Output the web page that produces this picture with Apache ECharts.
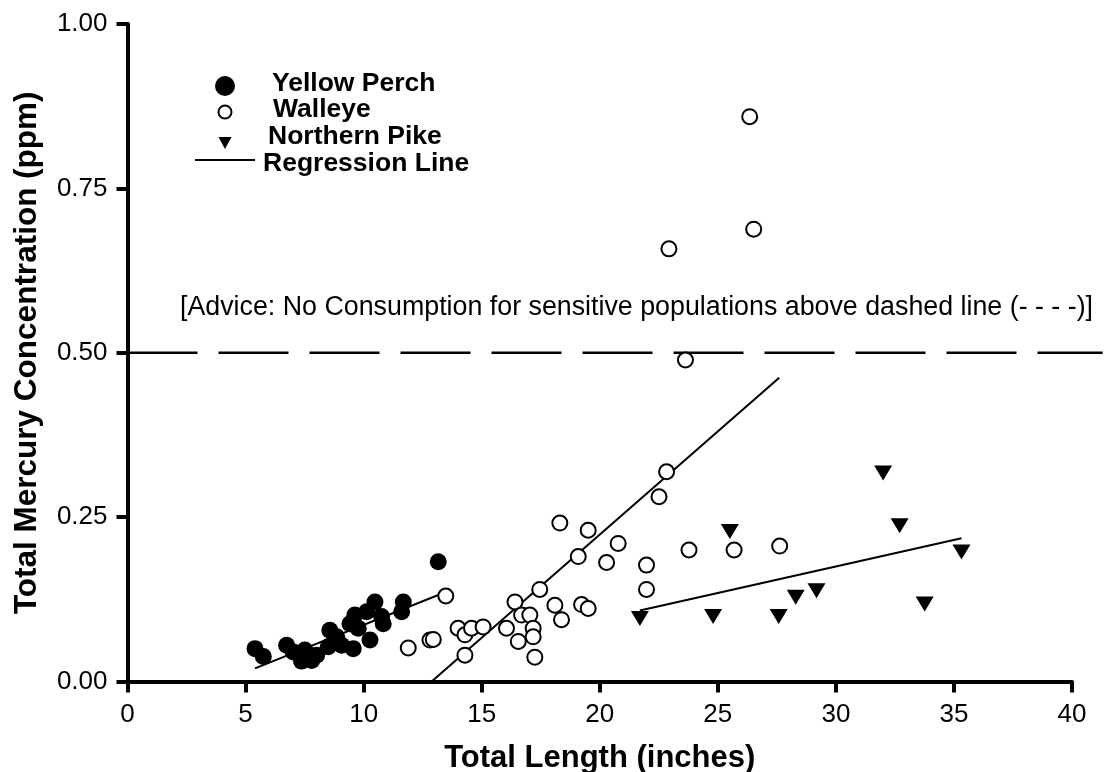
<!DOCTYPE html>
<html>
<head>
<meta charset="utf-8">
<script src="https://cdn.jsdelivr.net/npm/echarts@6/dist/echarts.min.js"></script>
<style>
html,body{margin:0;padding:0;background:#fff;}
#chart{width:1117px;height:772px;}
</style>
</head>
<body>
<div id="chart"></div>
<script>
// ---- data ----
const xTickValues = [0, 5, 10, 15, 20, 25, 30, 35, 40];
const yTickLabels = ['0.00', '0.25', '0.50', '0.75', '1.00'];

const perchLength = [5.40, 5.75, 6.74, 7.02, 7.37, 7.51, 7.80, 8.01, 8.50, 8.57, 8.86, 9.07, 9.42, 9.56, 9.63, 9.77, 10.13, 10.27, 10.48, 10.76, 10.83, 11.61, 11.68, 13.16];
const perchHg     = [0.050, 0.038, 0.055, 0.045, 0.031, 0.048, 0.032, 0.040, 0.053, 0.078, 0.068, 0.055, 0.088, 0.050, 0.101, 0.081, 0.106, 0.063, 0.121, 0.099, 0.088, 0.106, 0.121, 0.182];

const walleyeLength = [11.89, 12.81, 12.95, 13.48, 14.00, 14.29, 14.29, 14.57, 15.06, 16.05, 16.41, 16.55, 16.69, 17.04, 17.18, 17.18, 17.25, 17.46, 18.10, 18.31, 18.38, 19.09, 19.23, 19.51, 19.51, 20.29, 20.78, 21.98, 21.98, 22.51, 22.83, 22.93, 23.63, 23.78, 25.69, 26.35, 26.52, 27.62];
const walleyeHg     = [0.051, 0.063, 0.064, 0.130, 0.081, 0.071, 0.040, 0.081, 0.083, 0.081, 0.121, 0.061, 0.101, 0.101, 0.081, 0.068, 0.037, 0.140, 0.116, 0.241, 0.094, 0.190, 0.117, 0.111, 0.230, 0.181, 0.210, 0.177, 0.140, 0.281, 0.319, 0.658, 0.489, 0.200, 0.200, 0.859, 0.688, 0.206];

const pikeLength = [21.70, 24.80, 25.51, 27.58, 28.30, 29.18, 32.00, 32.70, 33.76, 35.32];
const pikeHg     = [0.096, 0.099, 0.228, 0.099, 0.128, 0.138, 0.317, 0.237, 0.118, 0.197];

const perchFitX   = [5.4, 13.4];
const perchFitY   = [0.020, 0.135];
const walleyeFitX = [12.88, 27.6];
const walleyeFitY = [0.000, 0.462];
const pikeFitX    = [21.70, 35.32];
const pikeFitY    = [0.108, 0.218];

const adviceLevel = 0.5;
const adviceSpan  = [0, 41.3];
const adviceText  = '[Advice: No Consumption for sensitive populations above dashed line (- - - -)]';

const legendNames = ['Yellow Perch', 'Walleye', 'Northern Pike', 'Regression Line'];

// ---- helpers ----
const pairs = (xs, ys) => xs.map((x, i) => [x, ys[i]]);
const FONT = '"Liberation Sans", Arial, Helvetica, sans-serif';
const TRI = 'path://M0,0 L18,0 L9,15 Z';
const legendFont = 'bold 26.5px ' + FONT;

const chart = echarts.init(document.getElementById('chart'), null, {renderer: 'canvas'});

const legendText = (name, x, y) => ({
  type: 'text', x: x, y: y, silent: true,
  style: {text: name, font: legendFont, fill: '#000', verticalAlign: 'middle', align: 'left'}
});

const GRID_LEFT = 127.5, GRID_TOP = 24, GRID_BOTTOM = 90.5;
const xUnitPx = (1072 - GRID_LEFT) / (xTickValues[xTickValues.length - 1] - xTickValues[0]);

const option = {
  backgroundColor: '#fff',
  animation: false,
  textStyle: {fontFamily: FONT},
  grid: [
    {left: GRID_LEFT, right: 45, top: GRID_TOP, bottom: GRID_BOTTOM, containLabel: false, outerBoundsMode: 'none'},
    // same scale, extended to the right so the advice line can run past x = 40
    {left: GRID_LEFT, width: xUnitPx * (adviceSpan[1] - adviceSpan[0]), top: GRID_TOP, bottom: GRID_BOTTOM, containLabel: false, outerBoundsMode: 'none'}
  ],
  xAxis: [{
    gridIndex: 0,
    type: 'value',
    min: xTickValues[0],
    max: xTickValues[xTickValues.length - 1],
    interval: xTickValues[1] - xTickValues[0],
    name: 'Total Length (inches)',
    nameLocation: 'middle',
    nameGap: 61,
    nameTextStyle: {fontFamily: FONT, fontSize: 31, fontWeight: 'bold', color: '#000'},
    axisLine: {show: true, onZero: false, lineStyle: {color: '#000', width: 4}},
    axisTick: {show: true, inside: false, length: 11, lineStyle: {color: '#000', width: 4}},
    axisLabel: {margin: 20, fontFamily: FONT, fontSize: 26, color: '#000'},
    splitLine: {show: false}
  }, {
    gridIndex: 1, type: 'value', min: adviceSpan[0], max: adviceSpan[1], show: false
  }],
  yAxis: [{
    gridIndex: 0,
    type: 'value',
    min: 0,
    max: 1,
    interval: 0.25,
    name: 'Total Mercury Concentration (ppm)',
    nameLocation: 'middle',
    nameGap: 84,
    nameTextStyle: {fontFamily: FONT, fontSize: 31.5, fontWeight: 'bold', color: '#000'},
    axisLine: {show: true, onZero: false, lineStyle: {color: '#000', width: 4}},
    axisTick: {show: true, inside: false, length: 11, lineStyle: {color: '#000', width: 4}},
    axisLabel: {
      margin: 20, fontFamily: FONT, fontSize: 26, color: '#000',
      formatter: v => yTickLabels[Math.round(v / 0.25)]
    },
    splitLine: {show: false}
  }, {
    gridIndex: 1, type: 'value', min: 0, max: 1, show: false
  }],
  graphic: [
    {
      type: 'text', left: 180, top: 294, silent: true,
      style: {text: adviceText, font: '26.8px ' + FONT, fill: '#000'}
    },
    // legend
    {type: 'circle', silent: true, shape: {cx: 225, cy: 86, r: 10}, style: {fill: '#000'}},
    legendText(legendNames[0], 272, 84),
    {type: 'circle', silent: true, shape: {cx: 225, cy: 112, r: 6.5}, style: {fill: '#fff', stroke: '#000', lineWidth: 2}},
    legendText(legendNames[1], 273, 110),
    {type: 'polygon', silent: true, shape: {points: [[218.5, 137], [231.5, 137], [225, 149]]}, style: {fill: '#000'}},
    legendText(legendNames[2], 268, 137),
    {type: 'line', silent: true, shape: {x1: 195, y1: 160, x2: 255, y2: 160}, style: {stroke: '#000', lineWidth: 2}},
    legendText(legendNames[3], 263, 164)
  ],
  series: [
    {
      name: 'Advice Level', type: 'line', xAxisIndex: 1, yAxisIndex: 1, z: 1, silent: true,
      symbol: 'none',
      lineStyle: {color: '#000', width: 2.5, type: [70, 21]},
      data: adviceSpan.map(x => [x, adviceLevel])
    },
    {
      name: 'Regression Line', type: 'line', symbol: 'none', z: 1,
      lineStyle: {color: '#000', width: 2}, itemStyle: {color: '#000'},
      data: pairs(perchFitX, perchFitY)
    },
    {
      name: 'Regression Line', type: 'line', symbol: 'none', z: 1,
      lineStyle: {color: '#000', width: 2}, itemStyle: {color: '#000'},
      data: pairs(walleyeFitX, walleyeFitY)
    },
    {
      name: 'Regression Line', type: 'line', symbol: 'none', z: 1,
      lineStyle: {color: '#000', width: 2}, itemStyle: {color: '#000'},
      data: pairs(pikeFitX, pikeFitY)
    },
    {
      name: 'Yellow Perch', type: 'scatter', z: 3,
      symbol: 'circle', symbolSize: 17,
      itemStyle: {color: '#000', opacity: 1},
      data: pairs(perchLength, perchHg)
    },
    {
      name: 'Walleye', type: 'scatter', z: 3,
      symbol: 'circle', symbolSize: 15,
      itemStyle: {color: '#fff', borderColor: '#000', borderWidth: 2, opacity: 1},
      data: pairs(walleyeLength, walleyeHg)
    },
    {
      name: 'Northern Pike', type: 'scatter', z: 3,
      symbol: TRI, symbolSize: [18, 15],
      itemStyle: {color: '#000', opacity: 1},
      data: pairs(pikeLength, pikeHg)
    }
  ]
};
chart.setOption(option);
</script>
</body>
</html>
